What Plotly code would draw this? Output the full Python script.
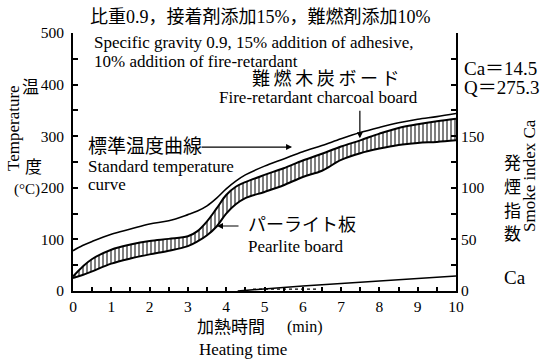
import plotly.graph_objects as go

# ---- data ----
time_min = [0, 0.25, 0.5, 1, 1.5, 2, 2.5, 3, 3.25, 3.5, 3.75, 4, 4.25, 4.5,
            5, 5.5, 6, 6.5, 7, 7.5, 8, 8.5, 9, 9.5, 10]
standard_curve = [78, 88, 96, 110, 120, 130, 136, 148, 155, 165, 180, 198, 213, 225,
                  242, 256, 270, 282, 295, 307, 317, 326, 333, 338, 344]
band_upper = [28, 47, 62, 80, 90, 97, 101, 106, 116, 135, 160, 186, 202, 211,
              225, 238, 253, 266, 280, 292, 305, 316, 323, 329, 334]
band_lower = [25, 31, 38, 53, 63, 71, 78, 87, 96, 108, 125, 150, 168, 180,
              192, 205, 221, 233, 254, 267, 276, 283, 287, 289, 292]
ca_time = [4.3, 5, 6, 7, 8, 9, 10]
ca_values = [0, 2.2, 4.8, 7.3, 9.7, 12.1, 14.5]
ca2_time = [4.7, 5.5, 6.4]
ca2_values = [1.8, 2.0, 1.8]

x_ticks = list(range(0, 11))
left_ticks = [0, 100, 200, 300, 400, 500]
right_ticks = [0, 50, 100, 150]

SERIF = "Liberation Serif, Noto Sans CJK JP"

W, H = 544, 360
ML, MR, MT, MB = 73, 88, 33, 69
PW, PH = W - ML - MR, H - MT - MB


def px(xp):
    return (xp - ML) / PW


def py(yp):
    return (H - MB - yp) / PH


fig = go.Figure()

fig.add_trace(go.Scatter(x=time_min, y=band_lower, mode="lines",
                         line=dict(color="black", width=2, shape="spline"),
                         showlegend=False, hoverinfo="skip"))
fig.add_trace(go.Scatter(x=time_min, y=band_upper, mode="lines",
                         line=dict(color="black", width=2, shape="spline"),
                         fill="tonexty", fillcolor="white",
                         fillpattern=dict(shape="|", fgcolor="black", bgcolor="white",
                                          size=4, solidity=0.5),
                         showlegend=False, hoverinfo="skip"))
fig.add_trace(go.Scatter(x=time_min, y=standard_curve, mode="lines",
                         line=dict(color="black", width=1.6, shape="spline"),
                         showlegend=False, hoverinfo="skip"))
fig.add_trace(go.Scatter(x=ca_time, y=ca_values, mode="lines", yaxis="y2",
                         line=dict(color="black", width=1.5),
                         showlegend=False, hoverinfo="skip"))
fig.add_trace(go.Scatter(x=ca2_time, y=ca2_values, mode="lines", yaxis="y2",
                         line=dict(color="black", width=1.2, dash="dot"),
                         showlegend=False, hoverinfo="skip"))

tickfont = dict(family=SERIF, size=15.5, color="black")

fig.update_layout(
    width=W, height=H, autosize=False,
    margin=dict(l=ML, r=MR, t=MT, b=MB, pad=0),
    paper_bgcolor="white", plot_bgcolor="white",
    xaxis=dict(range=[0, 10], tickvals=x_ticks, ticktext=[str(v) for v in x_ticks],
               ticks="inside", ticklen=4, tickwidth=1.5, tickcolor="black",
               minor=dict(dtick=0.5, ticks="inside", ticklen=4, tickwidth=1.5, tickcolor="black"),
               showline=True, linecolor="black", linewidth=2, showgrid=False, zeroline=False,
               tickfont=tickfont, fixedrange=True),
    yaxis=dict(range=[0, 500], tickvals=left_ticks, ticks="inside", ticklen=5, tickwidth=1.5,
               tickcolor="black",
               minor=dict(dtick=50, ticks="inside", ticklen=5, tickwidth=1.5, tickcolor="black"),
               showline=True, linecolor="black", linewidth=2, showgrid=False, zeroline=False,
               tickfont=tickfont, ticklabelstandoff=4),
    yaxis2=dict(range=[0, 250], tickvals=right_ticks, overlaying="y", side="right",
                ticks="inside", ticklen=5, tickwidth=1.5, tickcolor="black",
                minor=dict(dtick=25, ticks="inside", ticklen=5, tickwidth=1.5, tickcolor="black"),
                showline=True, linecolor="black", linewidth=2, showgrid=False, zeroline=False,
                tickfont=tickfont),
)

ann = []


def text(s, x, y, size, family=SERIF, xanchor="center", angle=0):
    ann.append(dict(text=s, x=px(x), y=py(y), xref="paper", yref="paper",
                    xanchor=xanchor, yanchor="middle", showarrow=False,
                    textangle=angle, font=dict(family=family, size=size, color="black")))


TS = "\u2009"
text("比重0.9，接着剤添加15%，難燃剤添加10%", 260, 17, 18)
text("Specific gravity 0.9, 15% addition of adhesive,", 92, 43, 17, xanchor="left")
text("10% addition of fire-retardant", 92, 62, 17, xanchor="left")
text(TS.join("難燃木炭ボード"), 326, 79, 18)
text("Fire-retardant charcoal board", 318, 97, 17)
text("Ca＝14.5", 462, 68, 19, xanchor="left")
text("Q＝275.3", 462, 87, 19, xanchor="left")
text("標準温度曲線", 86, 146, 19, xanchor="left")
text("Standard temperature", 86, 166, 17, xanchor="left")
text("curve", 86, 185, 17, xanchor="left")
text("パーライト板", 246, 225, 18, xanchor="left")
text("Pearlite board", 246, 246, 17, xanchor="left")
text("Temperature", 13, 128, 17, angle=-90)
text("温", 30, 87, 17)
text("度", 33, 167, 17)
text("(°C)", 27, 189, 15)
text("発", 512, 163, 17)
text("煙", 512, 187, 17)
text("指", 512, 211, 17)
text("数", 512, 234, 17)
text("Smoke index Ca", 529, 176, 17, angle=-90)
text("Ca", 515, 277, 19)
text("加熱時間", 231, 327, 17)
text("(min)", 305, 327, 16)
text("Heating time", 243, 349, 17)

# arrows (tips placed in data coordinates)
ann.append(dict(x=5.72, y=279, xref="x", yref="y", ax=-92, ay=0, text="",
                showarrow=True, arrowhead=2, arrowsize=1, arrowwidth=1.2, arrowcolor="black"))
ann.append(dict(x=7.49, y=296, xref="x", yref="y", ax=0, ay=-29, text="",
                showarrow=True, arrowhead=2, arrowsize=1, arrowwidth=1.2, arrowcolor="black"))
ann.append(dict(x=3.76, y=126, xref="x", yref="y", ax=23, ay=0, text="",
                showarrow=True, arrowhead=2, arrowsize=1, arrowwidth=1.2, arrowcolor="black"))

fig.update_layout(annotations=ann)

fig.write_html("out.html", config={"displayModeBar": False})
